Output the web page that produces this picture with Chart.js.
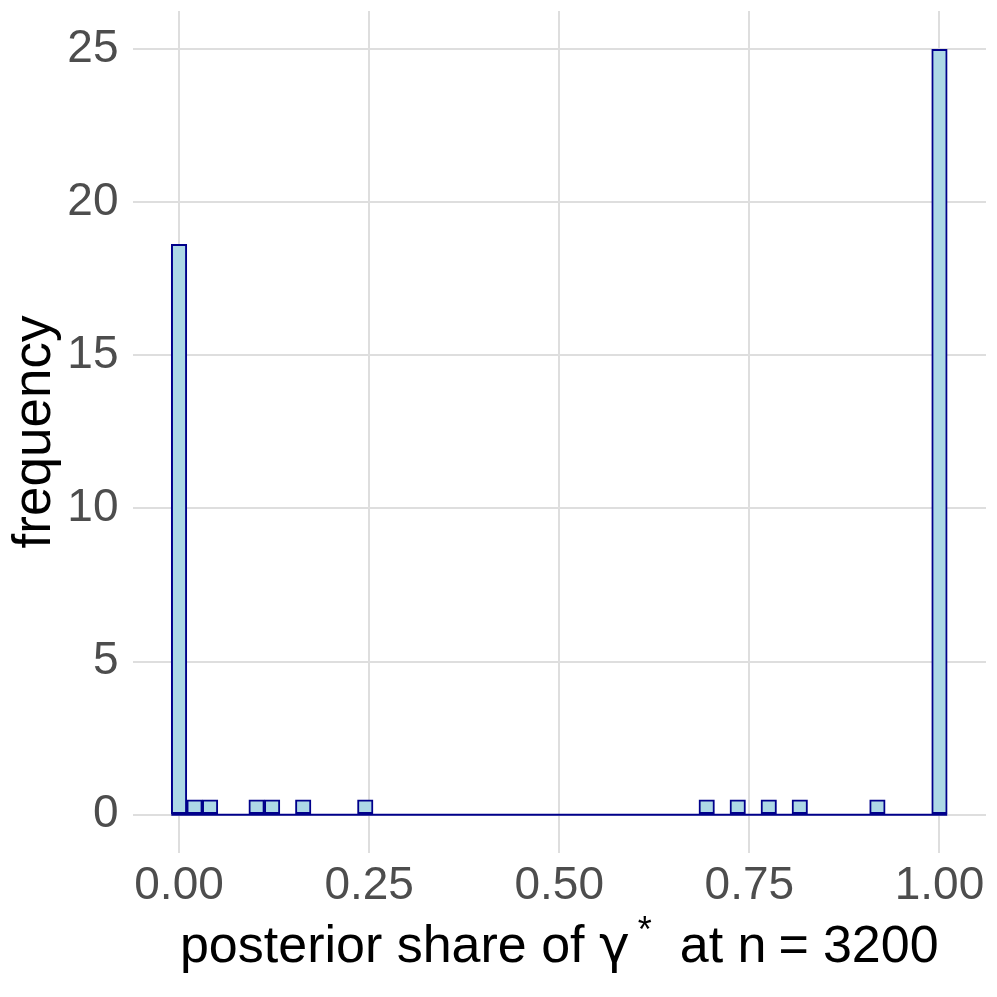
<!DOCTYPE html>
<html>
<head>
<meta charset="utf-8">
<script src="https://cdn.jsdelivr.net/npm/chart.js@4"></script>
<style>
  html, body { margin: 0; padding: 0; background: #fff; }
  #wrap { width: 997px; height: 997px; }
</style>
</head>
<body>
<div id="wrap"><canvas id="c" width="997" height="997"></canvas></div>
<script>
// ---- data ----
const binCenters = [0, 0.0204, 0.0408, 0.0612, 0.0816, 0.1020, 0.1224, 0.1429, 0.1633, 0.1837,
  0.2041, 0.2245, 0.2449, 0.2653, 0.2857, 0.3061, 0.3265, 0.3469, 0.3673, 0.3878,
  0.4082, 0.4286, 0.4490, 0.4694, 0.4898, 0.5102, 0.5306, 0.5510, 0.5714, 0.5918,
  0.6122, 0.6327, 0.6531, 0.6735, 0.6939, 0.7143, 0.7347, 0.7551, 0.7755, 0.7959,
  0.8163, 0.8367, 0.8571, 0.8776, 0.8980, 0.9184, 0.9388, 0.9592, 0.9796, 1.0000];
const frequency = [18.62, 0.49, 0.49, 0, 0, 0.49, 0.49, 0, 0.49, 0,
  0, 0, 0.49, 0, 0, 0, 0, 0, 0, 0,
  0, 0, 0, 0, 0, 0, 0, 0, 0, 0,
  0, 0, 0, 0, 0.49, 0, 0.49, 0, 0.49, 0,
  0.49, 0, 0, 0, 0, 0.49, 0, 0, 0, 24.99];
const baselineX = [-0.0102, 1.0102];
const baselineY = [0, 0];
const xTickValues = [0, 0.25, 0.5, 0.75, 1];
const xTickLabels = ['0.00', '0.25', '0.50', '0.75', '1.00'];
const yTickValues = [0, 5, 10, 15, 20, 25];
const yTickLabels = ['0', '5', '10', '15', '20', '25'];
const yTitle = 'frequency';
const xTitleParts = ['posterior share of ', 'γ', '*', 'at n', '=', '3200'];

// ---- style ----
const FONT = '"Liberation Sans", Arial, Helvetica, sans-serif';
const TICK_SIZE = 46, TITLE_SIZE = 53, XTITLE_SIZE = 52;
const GRID = '#dedede';

const xTitlePlugin = {
  id: 'xTitle',
  afterDraw(chart) {
    const ctx = chart.ctx;
    const ca = chart.chartArea;
    ctx.save();
    ctx.fillStyle = '#000';
    ctx.textBaseline = 'alphabetic';
    const big = XTITLE_SIZE + 'px ' + FONT;
    const sup = Math.round(XTITLE_SIZE * 0.7) + 'px ' + FONT;
    const gam = XTITLE_SIZE + 'px "DejaVu Sans", ' + FONT;
    const segs = [
      {t: xTitleParts[0], f: big, dy: 0, after: 0},
      {t: xTitleParts[1], f: gam, dy: 0, after: 8},
      {t: xTitleParts[2], f: sup, dy: -20, after: 28},
      {t: xTitleParts[3], f: big, dy: 0, after: 12},
      {t: xTitleParts[4], f: big, dy: 0, after: 14},
      {t: xTitleParts[5], f: big, dy: 0, after: 0}
    ];
    let total = 0;
    segs.forEach(s => { ctx.font = s.f; s.w = ctx.measureText(s.t).width; total += s.w + s.after; });
    let x = (ca.left + ca.right) / 2 - total / 2;
    const y = 962;
    segs.forEach(s => {
      ctx.font = s.f;
      ctx.fillText(s.t, x, y + s.dy);
      x += s.w + s.after;
    });
    ctx.restore();
  }
};

new Chart(document.getElementById('c'), {
  type: 'bar',
  data: {
    datasets: [
      {
        type: 'bar',
        data: binCenters.map((x, i) => ({x: x, y: frequency[i]})),
        backgroundColor: '#add8e6',
        borderColor: '#00008b',
        borderWidth: 2,
        borderSkipped: false,
        barPercentage: 1,
        categoryPercentage: 1,
        order: 2
      },
      {
        type: 'line',
        data: baselineX.map((x, i) => ({x: x, y: baselineY[i]})),
        borderColor: '#00008b',
        borderWidth: 2,
        pointRadius: 0,
        fill: false,
        order: 1
      }
    ]
  },
  options: {
    responsive: false,
    animation: false,
    layout: { padding: { top: 11, right: 11, left: 0, bottom: 0 } },
    plugins: { legend: { display: false }, tooltip: { enabled: false } },
    scales: {
      x: {
        type: 'linear',
        offset: false,
        min: -0.0612, max: 1.0612,
        afterBuildTicks: s => { s.ticks = xTickValues.map(v => ({value: v})); },
        afterFit: s => { s.height = 144; s.paddingLeft = 0; s.paddingRight = 0; },
        ticks: {
          callback: (v) => xTickLabels[xTickValues.indexOf(v)],
          font: { size: TICK_SIZE, family: FONT },
          color: '#4d4d4d',
          padding: 6,
          maxRotation: 0, autoSkip: false
        },
        grid: { color: GRID, lineWidth: 2, drawTicks: false, offset: false },
        border: { display: false }
      },
      y: {
        type: 'linear',
        min: -1.2495, max: 26.24,
        afterBuildTicks: s => { s.ticks = yTickValues.map(v => ({value: v})); },
        afterFit: s => { s.width = 132.5; s.paddingTop = 0; s.paddingBottom = 0; },
        ticks: {
          callback: (v) => yTickLabels[yTickValues.indexOf(v)],
          font: { size: TICK_SIZE, family: FONT },
          color: '#4d4d4d',
          padding: 14
        },
        title: {
          display: true,
          text: yTitle,
          font: { size: TITLE_SIZE, family: FONT },
          color: '#000',
          padding: { top: 4, bottom: 0 }
        },
        grid: { color: GRID, lineWidth: 2, drawTicks: false },
        border: { display: false }
      }
    }
  },
  plugins: [xTitlePlugin]
});
</script>
</body>
</html>
